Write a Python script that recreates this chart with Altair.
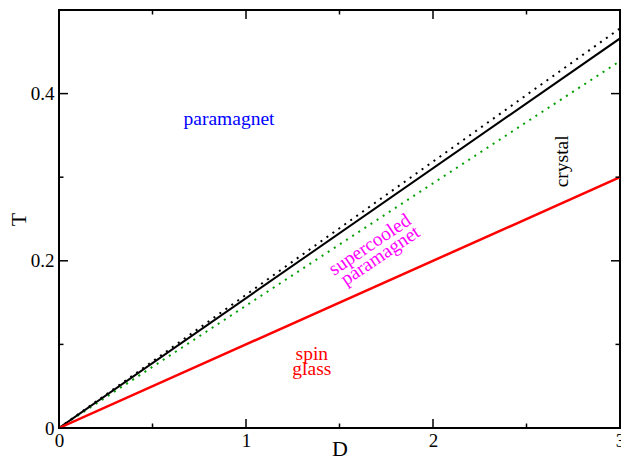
import altair as alt
import pandas as pd

# ---- data ----
D = [0.0, 3.0]
T_crystal = [0.0, 0.466]          # black solid
T_black_dotted = [0.0, 0.478]     # black dotted
T_green_dotted = [0.0, 0.439]     # green dotted
T_spin_glass = [0.0, 0.300]       # red solid

x_major = [0, 1, 2, 3]
x_minor = [0.5, 1.5, 2.5]
y_major = [0.0, 0.2, 0.4]
y_minor = [0.1, 0.3]

label_text = ["paramagnet", "crystal", "spin", "glass", "supercooled", "paramagnet"]
label_D = [0.909, 2.724, 1.352, 1.352, 1.68, 1.736]
label_T = [0.362, 0.319, 0.0815, 0.0636, 0.2133, 0.2002]
label_color = ["#0000ff", "#000000", "#ff0000", "#ff0000", "#ff00ff", "#ff00ff"]
label_angle = [0, 270, 0, 0, 326, 326]

W, H = 561, 418
FONT = "Liberation Serif"

xs = alt.Scale(domain=[0, 3], nice=False, zero=False)
ys = alt.Scale(domain=[0, 0.5], nice=False, zero=False)


def line_layer(tvals, color, width, dash=None):
    df = pd.DataFrame({"D": D, "T": tvals})
    kw = dict(color=color, strokeWidth=width, clip=True)
    if dash:
        kw["strokeDash"] = dash
    return alt.Chart(df).mark_line(**kw).encode(
        x=alt.X("D:Q", scale=xs,
                axis=alt.Axis(values=x_major, format="~g", ticks=False, tickSize=0, domain=False,
                              grid=False, labelFont=FONT, labelFontSize=19, labelColor="black",
                              labelPadding=3, labelFlush=False,
                              title="D", titleFont=FONT, titleFontSize=22, titleFontWeight="normal",
                              titleColor="black", titleX=W / 2, titleY=27,
                              titleBaseline="alphabetic")),
        y=alt.Y("T:Q", scale=ys,
                axis=alt.Axis(values=y_major, format="~g", ticks=False, tickSize=0, domain=False,
                              grid=False, labelFont=FONT, labelFontSize=19, labelColor="black",
                              labelPadding=5, labelFlush=False,
                              title="T", titleFont=FONT, titleFontSize=22, titleFontWeight="normal",
                              titleColor="black", titleX=-41, titleY=H / 2, titleAngle=270,
                              titleBaseline="middle", titleAlign="center")),
    )


lines = [
    line_layer(T_green_dotted, "#00a000", 2, [2, 5.3]),
    line_layer(T_black_dotted, "#000000", 2, [2, 5.3]),
    line_layer(T_crystal, "#000000", 2),
    line_layer(T_spin_glass, "#ff0000", 2.5),
]

# ticks (inward, mirrored on all four sides)
xt_major = pd.DataFrame({"D": x_major})
xt_minor = pd.DataFrame({"D": x_minor})
yt_major = pd.DataFrame({"T": y_major})
yt_minor = pd.DataFrame({"T": y_minor})


def xticks(df, length):
    bottom = alt.Chart(df).mark_rule(color="black", strokeWidth=1.5).encode(
        x=alt.X("D:Q", scale=xs), y=alt.value(H), y2=alt.value(H - length))
    top = alt.Chart(df).mark_rule(color="black", strokeWidth=1.5).encode(
        x=alt.X("D:Q", scale=xs), y=alt.value(0), y2=alt.value(length))
    return [bottom, top]


def yticks(df, length):
    left = alt.Chart(df).mark_rule(color="black", strokeWidth=1.5).encode(
        y=alt.Y("T:Q", scale=ys), x=alt.value(0), x2=alt.value(length))
    right = alt.Chart(df).mark_rule(color="black", strokeWidth=1.5).encode(
        y=alt.Y("T:Q", scale=ys), x=alt.value(W), x2=alt.value(W - length))
    return [left, right]


ticks = xticks(xt_major, 9) + xticks(xt_minor, 4.5) + yticks(yt_major, 9) + yticks(yt_minor, 4.5)

labels_df = pd.DataFrame({"text": label_text, "D": label_D, "T": label_T,
                          "color": label_color, "angle": label_angle})
texts = []
for i, r in labels_df.iterrows():
    texts.append(
        alt.Chart(labels_df.iloc[[i]]).mark_text(
            font=FONT, fontSize=19.5, color=r["color"], angle=int(r["angle"]),
            align="center", baseline="alphabetic"
        ).encode(x=alt.X("D:Q", scale=xs), y=alt.Y("T:Q", scale=ys), text="text:N")
    )

chart = alt.layer(*lines, *ticks, *texts).properties(
    width=W, height=H,
    background="white",
    autosize=alt.AutoSizeParams(type="none"),
    padding={"left": 51, "top": 2, "right": 1, "bottom": 34},
).configure_view(stroke="black", strokeWidth=2)

chart.save("out.html", embed_options={"renderer": "svg", "actions": False})
